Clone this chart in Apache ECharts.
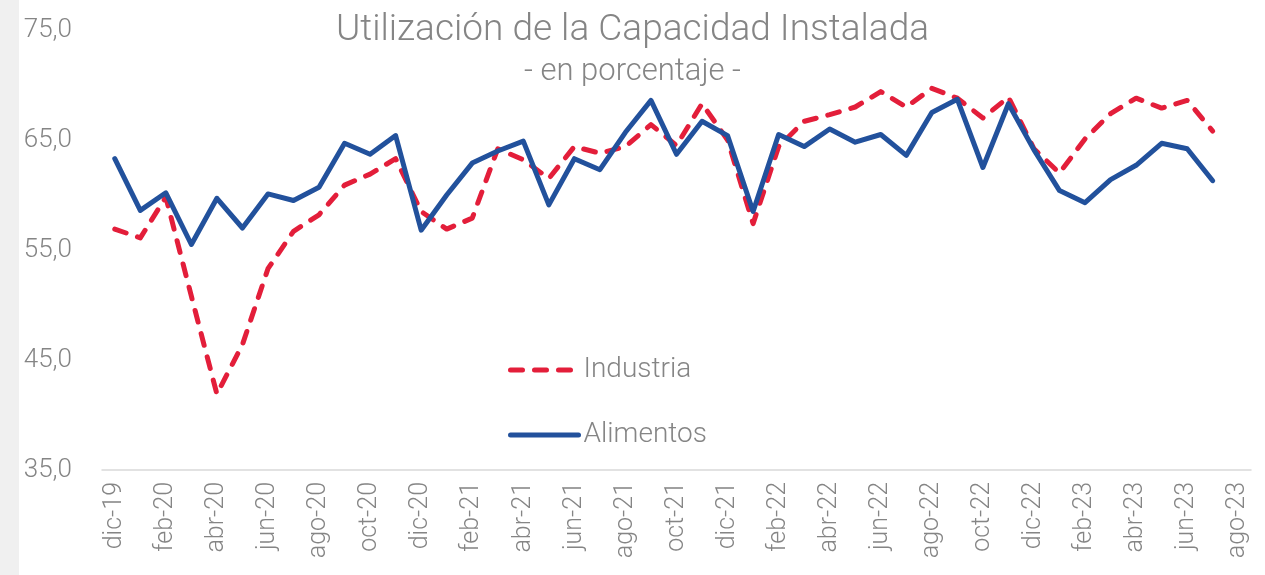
<!DOCTYPE html>
<html>
<head>
    <meta charset="UTF-8">
    <title>Utilización de la Capacidad Instalada</title>
    <script src="https://cdn.jsdelivr.net/npm/echarts@6/dist/echarts.min.js"></script>
    <style>
        html, body { margin: 0; padding: 0; background: #fff; }
    </style>
</head>
<body>
    <div id="main" style="width: 1265px;height:575px;"></div>
    <script type="text/javascript">
        // meses (el último, ago-23, no tiene datos)
        var meses = ['dic-19',
            'ene-20','feb-20','mar-20','abr-20','may-20','jun-20','jul-20','ago-20','sep-20','oct-20','nov-20','dic-20',
            'ene-21','feb-21','mar-21','abr-21','may-21','jun-21','jul-21','ago-21','sep-21','oct-21','nov-21','dic-21',
            'ene-22','feb-22','mar-22','abr-22','may-22','jun-22','jul-22','ago-22','sep-22','oct-22','nov-22','dic-22',
            'ene-23','feb-23','mar-23','abr-23','may-23','jun-23','jul-23','ago-23'];

        var industria = [56.9,
            56.1, 59.8, 50.8, 41.9, 46.4, 53.3, 56.7, 58.2, 60.9, 61.9, 63.3, 58.5,
            56.9, 57.9, 64.2, 63.2, 61.5, 64.4, 63.8, 64.4, 66.4, 64.5, 68.3, 65.0,
            57.4, 64.4, 66.7, 67.3, 68.0, 69.4, 68.0, 69.7, 68.8, 67.0, 68.9, 64.2,
            62.0, 65.1, 67.4, 68.8, 67.9, 68.6, 65.8];

        var alimentos = [63.3,
            58.6, 60.2, 55.5, 59.7, 57.0, 60.1, 59.5, 60.7, 64.7, 63.7, 65.4, 56.8,
            60.0, 62.9, 64.0, 64.9, 59.1, 63.3, 62.3, 65.7, 68.6, 63.7, 66.7, 65.4,
            58.5, 65.5, 64.4, 66.0, 64.8, 65.5, 63.6, 67.5, 68.7, 62.5, 68.3, 64.1,
            60.4, 59.3, 61.4, 62.7, 64.7, 64.2, 61.3];

        var gris = '#858585';
        var fuente = 'Roboto';

        var myChart = echarts.init(document.getElementById('main'));
        myChart.setOption({
            animation: false,
            textStyle: { fontFamily: fuente, fontWeight: 300 },
            graphic: [{
                type: 'rect',
                left: 0, top: 0,
                shape: { width: 19, height: 575 },
                style: { fill: '#f0f0f0' }
            }],
            title: {
                text: 'Utilización de la Capacidad Instalada',
                subtext: '- en porcentaje -',
                left: 'center',
                top: 7,
                itemGap: 8,
                textStyle: { color: gris, fontSize: 37, fontWeight: 300, fontFamily: fuente },
                subtextStyle: { color: gris, fontSize: 31, fontWeight: 300, fontFamily: fuente }
            },
            legend: {
                orient: 'vertical',
                left: 503,
                top: 351,
                itemWidth: 68,
                itemHeight: 6,
                itemGap: 37,
                itemStyle: { opacity: 0 },
                lineStyle: { width: 5, cap: 'round' },
                textStyle: { color: gris, fontSize: 28, fontWeight: 300, fontFamily: fuente },
                data: ['Industria', 'Alimentos']
            },
            grid: { left: 102, right: 14, top: 30, bottom: 105, containLabel: false },
            xAxis: {
                type: 'category',
                data: meses,
                boundaryGap: true,
                axisLine: { lineStyle: { color: '#d9d9d9', width: 1.5 } },
                axisTick: { interval: 1, length: 6, lineStyle: { color: '#d9d9d9', width: 1.5 } },
                axisLabel: {
                    interval: 1, rotate: 90, margin: 12,
                    color: gris, fontSize: 25, fontWeight: 300, fontFamily: fuente
                }
            },
            yAxis: {
                type: 'value',
                min: 35, max: 75, interval: 10,
                splitLine: { show: false },
                axisLine: { show: false },
                axisTick: { show: false },
                axisLabel: {
                    margin: 30, color: gris, fontSize: 26, fontWeight: 300, fontFamily: fuente,
                    formatter: function (v) { return v.toFixed(1).replace('.', ','); }
                }
            },
            series: [{
                name: 'Industria',
                type: 'line',
                data: industria,
                symbol: 'none',
                color: '#e31e3a',
                lineStyle: { width: 5, type: [12, 12], cap: 'round', join: 'round', color: '#e31e3a' }
            }, {
                name: 'Alimentos',
                type: 'line',
                data: alimentos,
                symbol: 'none',
                color: '#22519c',
                lineStyle: { width: 5, cap: 'round', join: 'round', color: '#22519c' }
            }]
        });
    </script>
</body>
</html>
